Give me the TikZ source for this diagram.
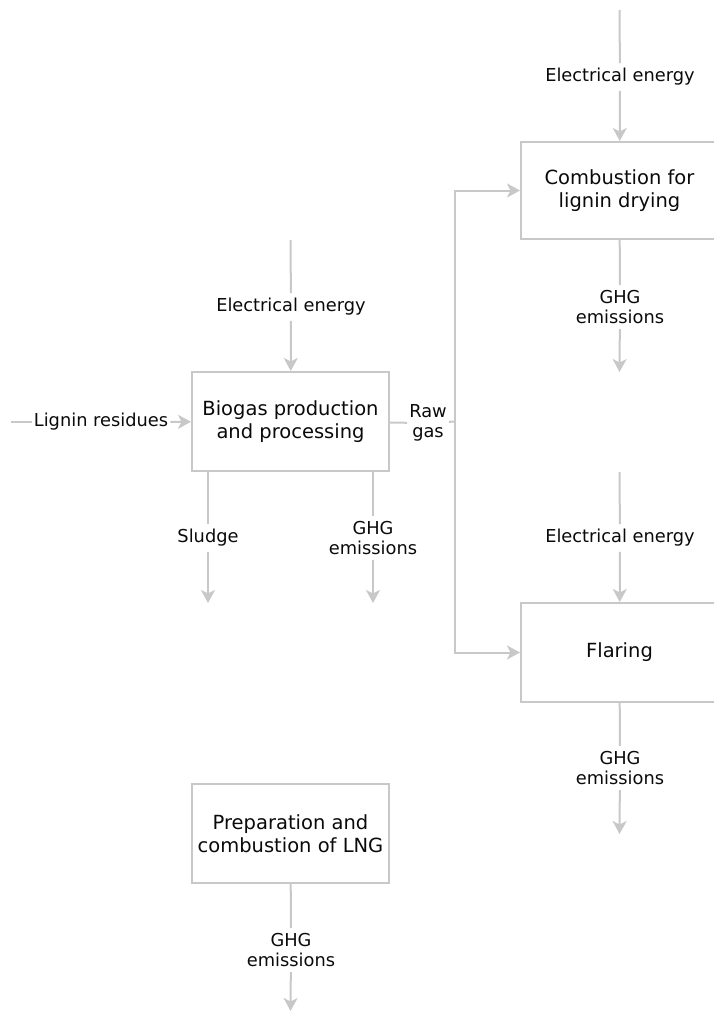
\documentclass[tikz,border=0pt]{standalone}
\usepackage{fontspec}
\setmainfont{DejaVu Sans}
\usepackage{xcolor}
\usetikzlibrary{positioning,arrows.meta}
\definecolor{cline}{RGB}{200,200,200}
\definecolor{ctext}{RGB}{10,10,10}

\begin{document}
\begin{tikzpicture}[
          x=1pt, y=1pt,
          every node/.style={text=ctext},
          box/.style={draw=cline, line width=2pt, inner sep=4pt,
          minimum width=197pt, minimum height=99pt, align=center,
          font=\fontsize{19.5}{23.4}\selectfont},
          lbl/.style={inner xsep=3pt, inner ysep=5pt, align=center,
          font=\fontsize{17.8}{20.5}\selectfont},
          line/.style={draw=cline, line width=2pt},
          arr/.style={line, -{Stealth[length=13pt, width=14pt, inset=3.5pt]}},
        ]
          \useasboundingbox (0,0) rectangle (713,-1012);

          % ── Process boxes ─────────────────────────────────────
          \node[box] (Bio)  at (290.5,-421.5) {Biogas production\\and processing};
          \node[box,minimum height=97pt] (Comb) at (619.5,-190.5) {Combustion for\\lignin drying};
          \node[box] (Flar) at (619.5,-652.5) {Flaring};
          \node[box] (LNG)  at (290.5,-833.5) {Preparation and\\combustion of LNG};

          % ── Flow labels ───────────────────────────────────────
          \node[lbl] (eBio)  at (291,-307)  {Electrical energy};
          \node[lbl,inner xsep=2pt] (lig) at (101,-422) {Lignin residues};
          \node[lbl,inner xsep=2pt] (raw) at (428,-423) {Raw\\gas};
          \node[lbl] (sludge) at (208,-538) {Sludge};
          \node[lbl] (gBio)  at (373,-538)  {GHG\\emissions};
          \node[lbl] (eComb) at (620,-77)   {Electrical energy};
          \node[lbl] (gComb) at (620,-307)  {GHG\\emissions};
          \node[lbl] (eFlar) at (620,-538)  {Electrical energy};
          \node[lbl] (gFlar) at (620,-768)  {GHG\\emissions};
          \node[lbl] (gLNG)  at (291,-950)  {GHG\\emissions};

          % ── Free ends ─────────────────────────────────────────
          \coordinate (eBioS)  at (290.5,-240);
          \coordinate (ligS)   at (11,-422);
          \coordinate (split)  at (455,-421.5);
          \coordinate (sludgeE) at (208,-603);
          \coordinate (gBioE)  at (373,-603);
          \coordinate (eCombS) at (619.5,-10);
          \coordinate (gCombE) at (619.5,-372);
          \coordinate (eFlarS) at (619.5,-472);
          \coordinate (gFlarE) at (619.5,-834);
          \coordinate (gLNGE)  at (290.5,-1011);

          % ── Biogas ────────────────────────────────────────────
          \draw[line] (eBioS) -- (eBio);
          \draw[arr]  (eBio) -- (Bio);
          \draw[line] (ligS) -- (lig);
          \draw[arr]  (lig) -- (Bio);
          \draw[line] (Bio.south -| sludgeE) -- (sludge);
          \draw[arr]  (sludge) -- (sludgeE);
          \draw[line] (Bio.south -| gBioE) -- (gBio);
          \draw[arr]  (gBio) -- (gBioE);

          % ── Raw gas split ─────────────────────────────────────
          \draw[line] (Bio) -- (raw);
          \draw[line] (raw) -- (split);
          \draw[arr]  (split) |- (Comb);
          \draw[arr]  (split) |- (Flar);

          % ── Combustion and flaring ────────────────────────────
          \draw[line] (eCombS) -- (eComb);
          \draw[arr]  (eComb) -- (Comb);
          \draw[line] (Comb) -- (gComb);
          \draw[arr]  (gComb) -- (gCombE);
          \draw[line] (eFlarS) -- (eFlar);
          \draw[arr]  (eFlar) -- (Flar);
          \draw[line] (Flar) -- (gFlar);
          \draw[arr]  (gFlar) -- (gFlarE);

          % ── LNG ───────────────────────────────────────────────
          \draw[line] (LNG) -- (gLNG);
          \draw[arr]  (gLNG) -- (gLNGE);

        \end{tikzpicture}
\end{document}
